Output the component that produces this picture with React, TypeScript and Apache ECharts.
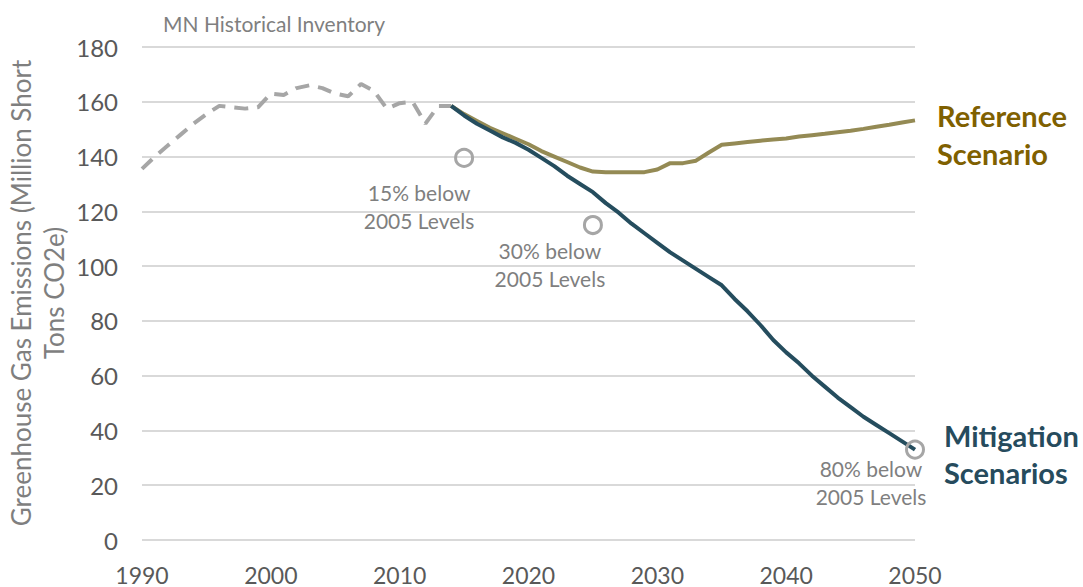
import React, { useEffect, useRef } from "react";
import * as echarts from "echarts";

const histYears = [1990,1991,1992,1993,1994,1995,1996,1997,1998,1999,2000,2001,2002,2003,2004,2005,2006,2007,2008,2009,2010,2011,2012,2013,2014];
const histValues = [135.5,140,144,148,152,155.5,158.5,158,157.5,158,163,162.5,165,166,165,163,162,166.5,164,157.5,159.5,160,152,158.5,158.5];

const scenYears = [2014,2015,2016,2017,2018,2019,2020,2021,2022,2023,2024,2025,2026,2027,2028,2029,2030,2031,2032,2033,2034,2035,2036,2037,2038,2039,2040,2041,2042,2043,2044,2045,2046,2047,2048,2049,2050];
const referenceValues = [158.5,155.5,153,150.5,148.5,146.5,144.5,142,140,138,136,134.5,134.3,134.3,134.3,134.3,135.3,137.6,137.6,138.5,141.5,144.3,144.8,145.3,145.8,146.2,146.6,147.3,147.8,148.3,148.9,149.4,150.1,150.9,151.6,152.4,153.2];
const mitigationValues = [158.5,155,152,149.5,147,145,142.5,139.5,136.5,133,130,127,123,119.5,115.5,112,108.5,105,102,99,96,93,88,83.5,78.5,73,68.5,64.5,60,56,52,48.5,45,42,39,36,33];

const targetYears = [2015, 2025, 2050];
const targetValues = [139.5, 115, 33];
const targetLabels = ["15% below\n2005 Levels", "30% below\n2005 Levels", "80% below\n2005 Levels"];

const FONT = "Lato, 'Open Sans', sans-serif";

export default function App() {
  const ref = useRef<HTMLDivElement>(null);
  useEffect(() => {
    if (!ref.current) return;
    const chart = echarts.init(ref.current, undefined, { renderer: "svg" });
    const offsets = [[-45, 49], [-43, 39], [-44, 33]];
    chart.setOption({
      animation: false,
      backgroundColor: "#ffffff",
      textStyle: { fontFamily: FONT },
      grid: { left: 142, right: 168, top: 47, bottom: 47, containLabel: false },
      xAxis: {
        type: "value",
        min: 1990,
        max: 2050,
        interval: 10,
        axisLine: { show: false },
        axisTick: { show: false },
        splitLine: { show: false },
        axisLabel: { color: "#595959", fontSize: 23, margin: 23, fontFamily: FONT, formatter: (v: number) => String(v) },
      },
      yAxis: {
        type: "value",
        min: 0,
        max: 180,
        interval: 20,
        axisLine: { show: false },
        axisTick: { show: false },
        splitLine: { lineStyle: { color: "#d9d9d9", width: 2 } },
        axisLabel: { color: "#595959", fontSize: 24, margin: 24, fontFamily: FONT },
      },
      graphic: [
        {
          type: "text",
          left: 163,
          top: 13,
          style: { text: "MN Historical Inventory", fill: "#7f7f7f", fontSize: 21, fontFamily: FONT },
        },
        {
          type: "text",
          x: 37,
          y: 293,
          rotation: Math.PI / 2,
          style: {
            text: "Greenhouse Gas Emissions (Million Short\nTons CO2e)",
            fill: "#7f7f7f",
            fontSize: 26,
            lineHeight: 33,
            fontFamily: FONT,
            align: "center",
            verticalAlign: "middle",
          },
        },
      ],
      series: [
        {
          name: "MN Historical Inventory",
          type: "line",
          data: histYears.map((y, i) => [y, histValues[i]]),
          showSymbol: false,
          lineStyle: { color: "#a6a6a6", width: 4, type: [14, 9] },
          z: 2,
        },
        {
          name: "Reference Scenario",
          type: "line",
          data: scenYears.map((y, i) => [y, referenceValues[i]]),
          showSymbol: false,
          lineStyle: { color: "#948a54", width: 4 },
          endLabel: {
            show: true,
            formatter: "Reference\nScenario",
            color: "#7f6000",
            fontSize: 29,
            fontWeight: "bold",
            lineHeight: 38,
            fontFamily: FONT,
            offset: [14, 14],
            align: "left",
          },
          z: 3,
        },
        {
          name: "Mitigation Scenarios",
          type: "line",
          data: scenYears.map((y, i) => [y, mitigationValues[i]]),
          showSymbol: false,
          lineStyle: { color: "#254d5e", width: 4 },
          endLabel: {
            show: true,
            formatter: "Mitigation\nScenarios",
            color: "#264b5d",
            fontSize: 29,
            fontWeight: "bold",
            lineHeight: 37,
            fontFamily: FONT,
            offset: [21, 4],
            align: "left",
          },
          z: 4,
        },
        {
          name: "Targets",
          type: "scatter",
          symbol: "circle",
          symbolSize: 17,
          itemStyle: { color: "rgba(255,255,255,0)", borderColor: "#a6a6a6", borderWidth: 3, opacity: 1 },
          data: targetYears.map((y, i) => ({
            value: [y, targetValues[i]],
            label: {
              show: true,
              formatter: targetLabels[i],
              position: "inside",
              offset: offsets[i],
              color: "#7f7f7f",
              fontSize: 21,
              lineHeight: 28,
              fontFamily: FONT,
              align: "center",
            },
          })),
          z: 5,
        },
      ],
    });
    return () => chart.dispose();
  }, []);
  return <div ref={ref} style={{ width: 1083, height: 587, position: "absolute", left: 0, top: 0 }} />;
}
